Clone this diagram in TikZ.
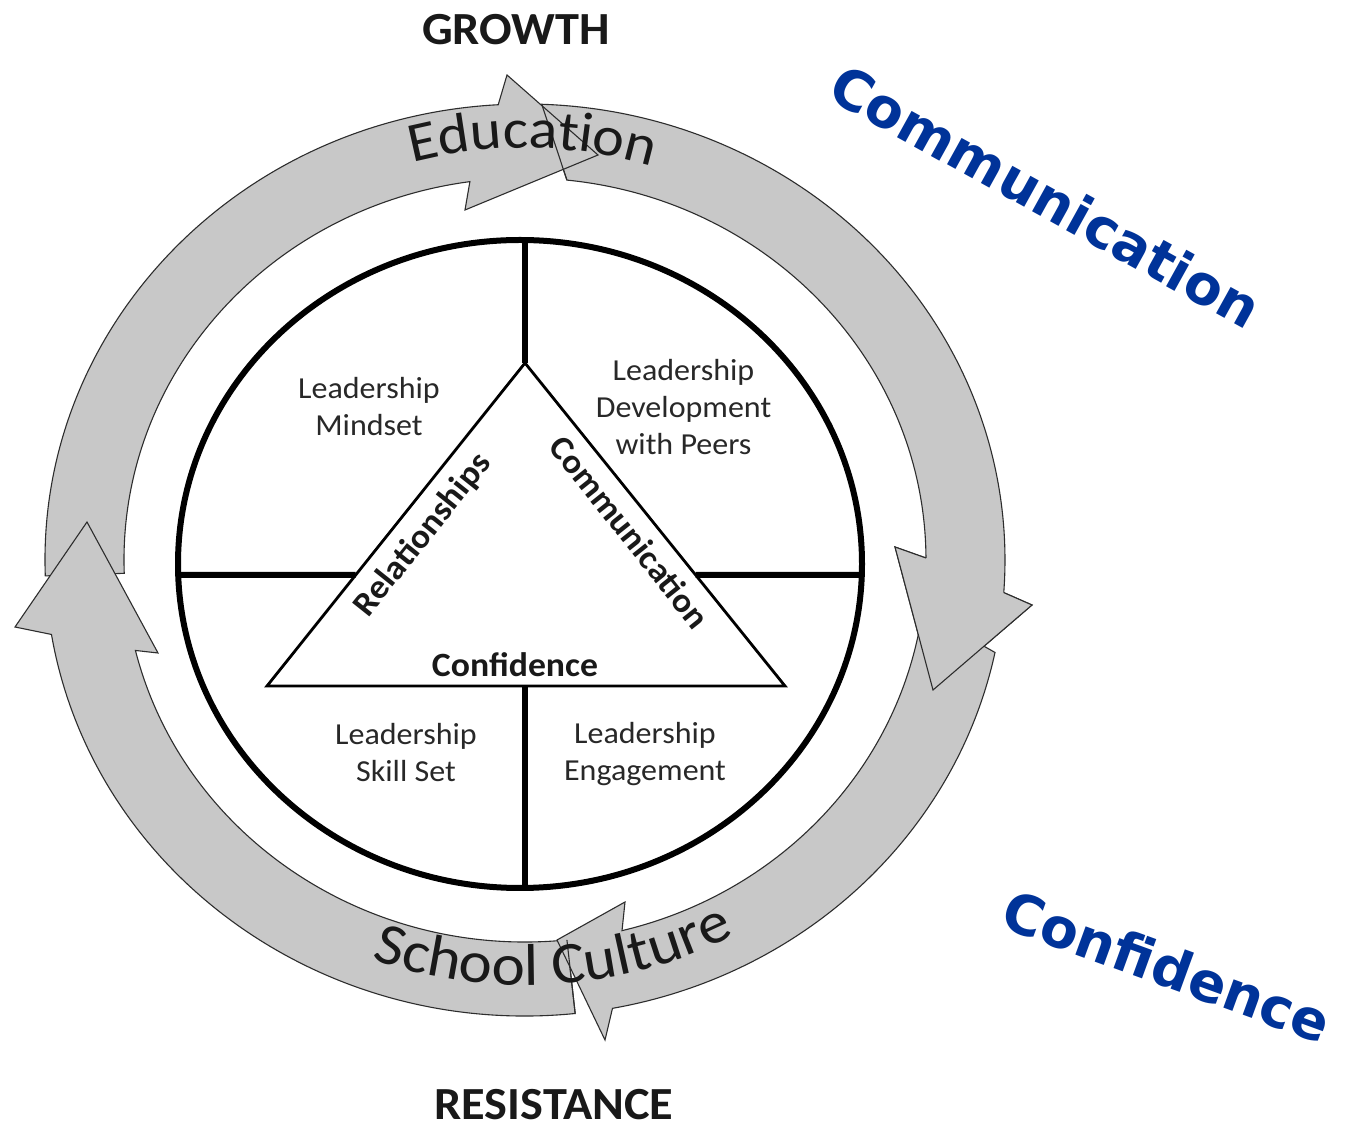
\documentclass[tikz,border=0pt]{standalone}
\usepackage{fontspec}
\setmainfont{Carlito}[FakeStretch=1.05]
\newfontfamily\ringfont{Carlito}[FakeStretch=1.07]
\newfontfamily\bluefont{DejaVu Sans}
\usetikzlibrary{decorations.text,calc}
\definecolor{ringgray}{RGB}{200,200,200}
\definecolor{ringline}{RGB}{45,45,45}
\definecolor{labelcol}{RGB}{40,40,40}
\definecolor{titlecol}{RGB}{25,25,25}
\definecolor{bluecol}{RGB}{0,51,153}
\tikzset{
  arrowshape/.style={fill=ringgray, draw=ringline, line width=1.1pt, line join=miter},
  ringedge/.style={draw=ringline, line width=1.1pt, line join=miter},
  heavyline/.style={line width=6pt, draw=black},
  triline/.style={line width=2.8pt, draw=black, line join=miter},
  labeltext/.style={font=\fontsize{30.5}{37}\selectfont, text=labelcol, align=center, inner sep=0pt},
  boldtext/.style={font=\bfseries\fontsize{34}{40}\selectfont, text=titlecol, inner sep=0pt},
  titletext/.style={font=\bfseries\fontsize{46}{50}\selectfont, text=titlecol, inner sep=0pt},
  bluetext/.style={font=\bluefont\bfseries\fontsize{55}{60}\selectfont, text=bluecol, inner sep=0pt},
}
\begin{document}
\begin{tikzpicture}[x=1pt,y=1pt]
\useasboundingbox (0,0) rectangle (1347,1128);
\fill[white] (0,0) rectangle (1347,1128);

% ---- ring arrows (order: B, A, D, C, then B head again) ----
% B: top -> right
\path[arrowshape] ({525+480*cos(88)},{568+456*sin(88)})
  arc[start angle=88, end angle=-4.1, x radius=480pt, y radius=456pt]
  -- (1032,523) -- (933,438) -- (895,581)
  -- ({525+401*cos(0.3)},{568+382*sin(0.3)})
  arc[start angle=0.3, end angle=84, x radius=401pt, y radius=382pt] -- cycle;
% A: left -> top
\path[arrowshape] ({525+480*cos(182)},{568+456*sin(182)})
  arc[start angle=182, end angle=93.2, x radius=480pt, y radius=456pt]
  -- (507,1053) -- (598,973) -- (465,918)
  -- ({525+401*cos(97.9)},{568+382*sin(97.9)})
  arc[start angle=97.9, end angle=182, x radius=401pt, y radius=382pt] -- cycle;
% D: bottom -> left
\path[arrowshape] ({525+480*cos(276)},{568+456*sin(276)})
  arc[start angle=276, end angle=189.4, x radius=480pt, y radius=456pt]
  -- (15,501) -- (87,606) -- (158,475)
  -- ({525+401*cos(193.7)},{568+382*sin(193.7)})
  arc[start angle=193.7, end angle=276, x radius=401pt, y radius=382pt] -- cycle;
% C: right -> bottom
\path[arrowshape] ({525+480*cos(-11.7)},{568+456*sin(-11.7)})
  arc[start angle=-11.7, end angle=-79.5, x radius=480pt, y radius=456pt]
  -- (605,88) -- (557,188) -- (625,226)
  -- ({525+401*cos(-76)},{568+382*sin(-76)})
  arc[start angle=-76, end angle=-7.7, x radius=401pt, y radius=382pt] -- cycle;
% B head drawn again on top
\fill[ringgray] ({525+480*cos(-4.1)},{568+456*sin(-4.1)}) -- (1032,523) -- (933,438)
  -- (895,581) -- ({525+401*cos(0.3)},{568+382*sin(0.3)}) -- cycle;
\draw[ringedge] ({525+480*cos(-4.1)},{568+456*sin(-4.1)}) -- (1032,523) -- (933,438)
  -- (895,581) -- ({525+401*cos(0.3)},{568+382*sin(0.3)});
% visible tail edges
\coordinate (btailo) at ({525+480*cos(88)},{568+456*sin(88)});
\coordinate (btaili) at ({525+401*cos(84)},{568+382*sin(84)});
\coordinate (dtailo) at ({525+480*cos(276)},{568+456*sin(276)});
\coordinate (dtaili) at ({525+401*cos(276)},{568+382*sin(276)});
\draw[ringedge] (btailo) -- (btaili);
\draw[ringedge] (dtailo) -- (dtaili);

% ---- ring texts ----
\path[decorate, decoration={text along path, text align=center, text color=titlecol,
   text={|\ringfont\fontsize{56}{56}\selectfont|Education}}]
   ({525+433*cos(124)},{568+412*sin(124)})
   arc[start angle=124, end angle=54, x radius=433pt, y radius=412pt];
\path[decorate, decoration={text along path, text align=center, text color=titlecol,
   text={|\ringfont\fontsize{59}{59}\selectfont|School Culture}}]
   ({525+446*cos(-127)},{568+425*sin(-127)})
   arc[start angle=-127, end angle=-45, x radius=446pt, y radius=425pt];

% ---- inner circle and triangle ----
\draw[heavyline] (520,564) ellipse [x radius=342pt, y radius=324pt];
\coordinate (apex) at (525,765);
\coordinate (bl) at (267,442);
\coordinate (br) at (785,442);
\coordinate (bbase) at (525,442);
\coordinate (ctop) at (525,888);
\coordinate (cbot) at (525,240);
\coordinate (cleft) at (178.2,553);
\coordinate (cright) at (861.8,553);
\coordinate (tl) at ($(apex)!0.6563!(bl)$);
\coordinate (tr) at ($(apex)!0.6563!(br)$);
\draw[heavyline] (ctop) -- (apex);
\draw[heavyline] (cleft) -- (tl);
\draw[heavyline] (tr) -- (cright);
\draw[heavyline] (bbase) -- (cbot);
\draw[triline] (apex) -- (bl) -- (br) -- cycle;

% ---- labels ----
\node[labeltext] (mindset) at (369,721.5) {Leadership\\Mindset};
\node[labeltext] (peers) at (683.5,720.5) {Leadership\\Development\\with Peers};
\node[labeltext] (skill) at (406,375) {Leadership\\Skill Set};
\node[labeltext] (engage) at (645,374) {Leadership\\Engagement};
\node[boldtext] (conf) at (515,463) {Confidence};
\node[boldtext, rotate=51.4] (rel) at (423,593) {Relationships};
\node[boldtext, rotate=-51.4] (comm) at (630,596) {Communication};

\node[titletext] (growth) at (516,1098) {GROWTH};
\node[titletext] (resist) at (554,23) {RESISTANCE};

\node[bluetext, rotate=-29] (bcomm) at (1046,932) {Communication};
\node[bluetext, rotate=-20] (bconf) at (1167,162) {Confidence};
\end{tikzpicture}
\end{document}
